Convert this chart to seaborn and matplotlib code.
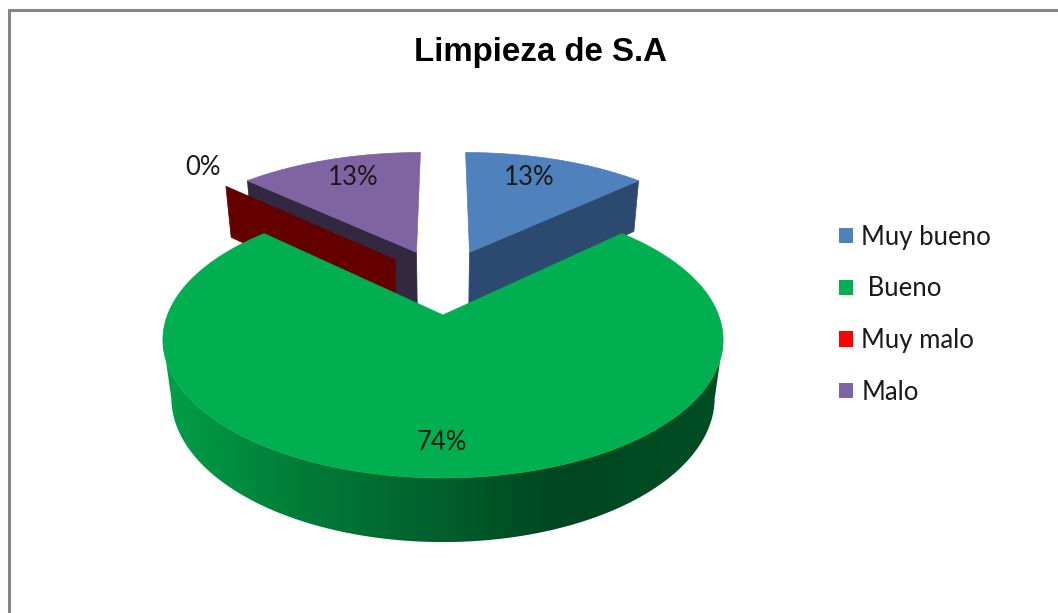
import numpy as np
import matplotlib
matplotlib.use("Agg")
import matplotlib.pyplot as plt
from matplotlib.colors import LinearSegmentedColormap
from matplotlib.patches import Patch, Polygon
import seaborn as sns

# datos de la grafica
titulo = "Limpieza de S.A"
categorias = ["Muy bueno", " Bueno", "Muy malo", "Malo"]
valores = [13, 74, 0, 13]
colores = ["#4F81BD", "#00B050", "#FF0000", "#8064A2"]

# camara y profundidad (pixeles)
CX, CY = 443, 315
A, B, K = 275.5, 133.6, 0.18
D, M = 59.4, 0.03

# ajustes por porcion, en el orden de categorias
desplaza = [(0.105, 0.512), (0.0, 0.0), (-0.188, 0.447), (-0.105, 0.512)]
radios = [1.045, 1.0, 1.05, 1.045]
cara_lateral = ["#2C4A70", None, "#640000", "#32283F"]
etiqueta_r = [0.75, 0.80, 1.18, 0.75]
etiqueta_nudge = [(-5, -6), (-1, 3), (-4, -11), (1, -6)]


def proyecta(u, v, z=0.0):
    w = 1 + K * v + M * z
    return CX + A * u / w, CY - B * v / w + D * z / w


def cuna(i, ini, fin, z=0.0, n=120):
    du, dv = desplaza[i]
    t = np.linspace(ini, fin, n)
    u = np.r_[du, du + radios[i] * np.sin(t)]
    v = np.r_[dv, dv + radios[i] * np.cos(t)]
    return np.column_stack(proyecta(u, v, z))


def cara_plana(i, ang):
    # cara interior de una porcion, del centro al borde
    du, dv = desplaza[i]
    u = np.array([du, du + radios[i] * np.sin(ang)])
    v = np.array([dv, dv + radios[i] * np.cos(ang)])
    x0, y0 = proyecta(u, v, 0)
    x1, y1 = proyecta(u, v, 1)
    return np.column_stack([np.r_[x0, x1[::-1]], np.r_[y0, y1[::-1]]])


sns.set_style("white")
plt.rcParams["font.family"] = ["Lato", "DejaVu Sans"]

fig = plt.figure(figsize=(10.58, 6.13), dpi=100)
ax = fig.add_axes([0, 0, 1, 1])

# marco gris, solo arriba e izquierda
ax.plot([8.5, 8.5, 1058], [613, 9.5, 9.5], color="#868686", lw=2.2, solid_joinstyle="miter")

limites = 2 * np.pi * np.cumsum([0] + valores) / sum(valores)

# orden de dibujo: atras primero, la porcion grande al final
for i in [3, 2, 0]:
    ang = limites[i + 1] if i == 0 else limites[i]
    ax.fill(*cara_plana(i, ang).T, color=cara_lateral[i], lw=0.5, zorder=2)
    if valores[i] > 0:
        ax.fill(*cuna(i, limites[i], limites[i + 1]).T, color=colores[i], lw=0.5, zorder=3)

# lateral de la porcion verde: solo la parte frontal, entre las tangentes
tang = np.arccos(-K)
t = np.linspace(tang, 2 * np.pi - tang, 400)
xa, ya = proyecta(np.sin(t), np.cos(t), 0)
xb, yb = proyecta(np.sin(t), np.cos(t), 1)
contorno = Polygon(np.column_stack([np.r_[xa, xb[::-1]], np.r_[ya, yb[::-1]]]),
                   closed=True, transform=ax.transData, facecolor="none", edgecolor="none")
ax.add_patch(contorno)
paradas = [(0.0, "#00A048"), (0.24, "#007D38"), (0.50, "#005F2B"), (0.70, "#004620"), (1.0, "#004E23")]
cmap = LinearSegmentedColormap.from_list("lateral", paradas)
grad = ax.imshow(np.linspace(0, 1, 600)[None, :], extent=(160, 726, 560, 300), cmap=cmap,
                 aspect="auto", zorder=4)
grad.set_clip_path(contorno)
ax.fill(*cuna(1, limites[1], limites[2], n=400).T, color=colores[1], lw=0.5, zorder=5)

ax.set_xlim(0, 1058)
ax.set_ylim(613, 0)
ax.axis("off")

# etiquetas de porcentaje
for i, val in enumerate(valores):
    medio = (limites[i] + limites[i + 1]) / 2
    du, dv = desplaza[i]
    px, py = proyecta(du + etiqueta_r[i] * np.sin(medio), dv + etiqueta_r[i] * np.cos(medio))
    ax.text(px + etiqueta_nudge[i][0], py + etiqueta_nudge[i][1], f"{val}%", fontsize=18.5,
            color="#1a1a1a", ha="center", va="center", zorder=6)

ax.text(540, 52, titulo, fontsize=23.8, fontweight="bold", family="Liberation Sans",
        color="black", ha="center", va="center")

handles = [Patch(facecolor=c, edgecolor="none", label=n) for c, n in zip(colores, categorias)]
ax.legend(handles=handles, loc="upper left", bbox_to_anchor=(0.7926, 0.6335), frameon=False,
          fontsize=18.5, handlelength=0.55, handleheight=0.55, handletextpad=0.33,
          labelspacing=1.04, labelcolor="#1a1a1a", borderpad=0, borderaxespad=0)

fig.savefig("out.png", dpi=100)
